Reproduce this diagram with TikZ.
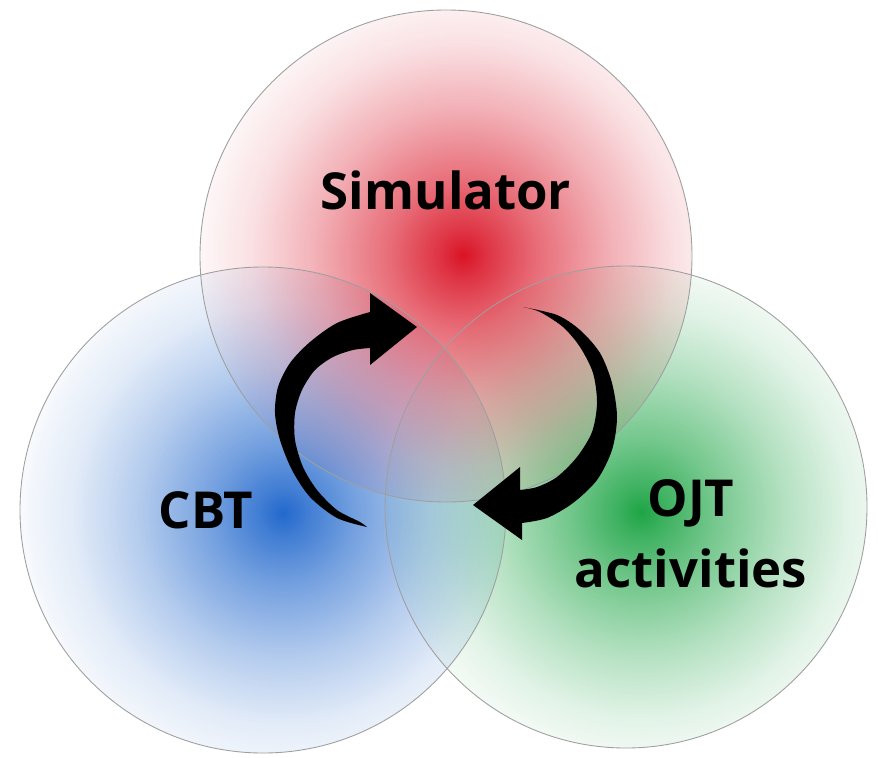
\documentclass[tikz,border=0pt]{standalone}
\usepackage{fontspec}
\setmainfont{Open Sans}
\usetikzlibrary{fadings}
\definecolor{simred}{RGB}{218,20,38}
\definecolor{cbtblue}{RGB}{35,105,205}
\definecolor{ojtgreen}{RGB}{30,165,70}
% radial glow: opaque in the middle, clear at the rim (rim = 25bp)
\pgfdeclareradialshading{glowshade}{\pgfpointorigin}{color(0bp)=(black!0); color(2.5bp)=(black!15); color(7bp)=(black!38); color(14bp)=(black!67); color(20bp)=(black!87); color(25bp)=(black!97); color(50bp)=(black!100)}
\pgfdeclarefading{glow}{\pgfuseshading{glowshade}}
\begin{document}
\begin{tikzpicture}[x=0.02cm,y=-0.02cm,font=\fontsize{29}{40}\selectfont\bfseries]
\tikzstyle{ring}=[draw=gray!75,line width=0.5pt]
\tikzstyle{lbl}=[anchor=base,align=center,inner sep=0pt]
\fill[white] (0,0) rectangle (878,757);
\useasboundingbox (0,0) rectangle (878,757);
\coordinate (cs) at (446,256); \coordinate (cc) at (263,510); \coordinate (co) at (626,507);
% glows, centres a little right of the ring centres
\begin{scope} \clip (cc) circle (243); \fill[cbtblue,path fading=glow] (283,513) circle (263); \end{scope}
\begin{scope} \clip (co) circle (241); \fill[ojtgreen,path fading=glow] (641,512) circle (256); \end{scope}
\begin{scope} \clip (cs) circle (246); \fill[simred,path fading=glow] (463,255) circle (263); \end{scope}
\draw[ring] (cc) circle (243); \draw[ring] (co) circle (241); \draw[ring] (cs) circle (246);
% cycle arrows
\fill plot[smooth] coordinates {(367,527) (337,518) (310,497) (292,470) (280,440) (275,413) (278,387) (290,363) (310,342) (337,323) (370,312)} -- (370,293) -- (417,327) -- (370,365) -- plot[smooth] coordinates {(370,348) (353,350) (333,357) (315,370) (302,390) (295,413) (295,440) (303,467) (317,490) (337,510) (360,522) (367,527)} -- cycle;
\fill plot[smooth] coordinates {(523,307) (557,315) (580,330) (600,353) (612,383) (617,417) (612,450) (597,480) (573,503) (547,518) (522,523)} -- (522,540) -- (473,505) -- (520,467) -- plot[smooth] coordinates {(520,490) (537,487) (557,477) (577,457) (592,432) (597,403) (593,373) (580,347) (563,327) (540,312) (523,307)} -- cycle;
\node[lbl] (sim) at (446,209) {Simulator};
\node[lbl] (cbt) at (206,528) {CBT};
\node[lbl] (ojt) at (691,587) {OJT\\activities};
\end{tikzpicture}
\end{document}
